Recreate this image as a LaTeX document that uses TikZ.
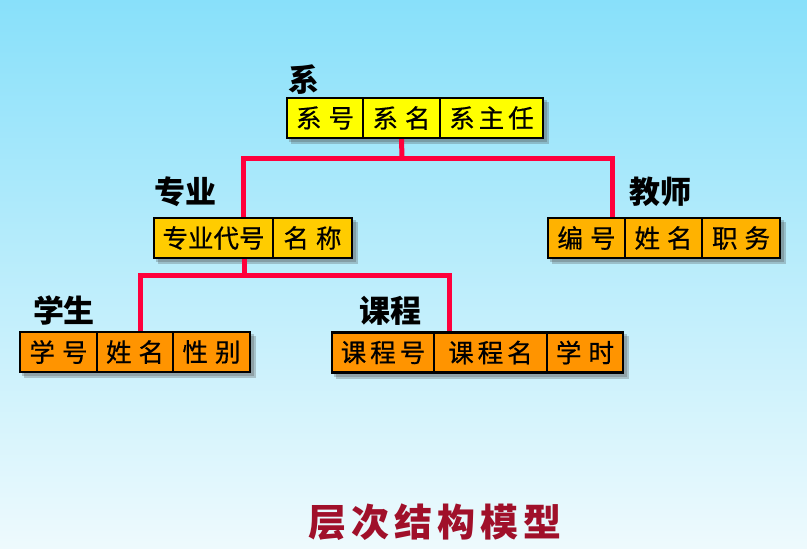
\documentclass[tikz,border=0pt]{standalone}
\usepackage{fontspec}
\newfontfamily\cjk{Noto Sans CJK SC}
\newfontfamily\cjkcell[FakeBold=0.6]{Noto Sans CJK SC}
\usetikzlibrary{backgrounds,calc}
\definecolor{bgtop}{RGB}{136,224,250}
\definecolor{bgbot}{RGB}{238,250,253}
\definecolor{linkred}{RGB}{255,0,60}
\definecolor{cyellow}{RGB}{255,255,0}
\definecolor{cgold}{RGB}{255,204,0}
\definecolor{camber}{RGB}{255,178,0}
\definecolor{corange}{RGB}{255,148,0}
\definecolor{titlered}{RGB}{160,16,42}
\tikzset{
  cell/.style={draw=black, line width=2.2pt, minimum height=40pt, inner sep=0pt,
    font=\cjkcell\fontsize{25.5}{25.5}\selectfont, text=black},
  ent/.style={font=\cjk\bfseries\fontsize{31}{31}\selectfont, inner sep=0pt, text=black},
  link/.style={draw=linkred, line width=5pt},
  boxshadow/.style={fill=black!70, opacity=0.28},
}
\begin{document}
\begin{tikzpicture}[x=1pt,y=-1pt]
\begin{scope}[on background layer]
  \shade[top color=bgtop, bottom color=bgbot] (0,0) rectangle (807,549);
\end{scope}
\useasboundingbox (0,0) rectangle (807,549);

% 系
\node[ent] (lx) at (304,80) {系};
\node[cell, fill=cyellow, minimum width=76pt]  (x1) at (325,118)   {系\hspace{7pt}号};
\node[cell, fill=cyellow, minimum width=77pt]  (x2) at (401.5,118) {系\hspace{7pt}名};
\node[cell, fill=cyellow, minimum width=103pt] (x3) at (491.5,118) {系\hspace{4pt}主\hspace{4pt}任};

% 专业
\node[ent] (lz) at (185,192) {专业};
\node[cell, fill=cgold, minimum width=119pt] (z1) at (213.5,238) {专业代号};
\node[cell, fill=cgold, minimum width=79pt]  (z2) at (312.5,238) {名\hspace{7pt}称};

% 教师
\node[ent] (lj) at (660,192) {教师};
\node[cell, fill=camber, minimum width=77pt] (j1) at (586.5,238) {编\hspace{7pt}号};
\node[cell, fill=camber, minimum width=77pt] (j2) at (663.5,238) {姓\hspace{7pt}名};
\node[cell, fill=camber, minimum width=78pt] (j3) at (741,238)   {职\hspace{7pt}务};

% 学生
\node[ent] (ls) at (64,310) {学生};
\node[cell, fill=corange, minimum width=77pt] (s1) at (58.5,352) {学\hspace{7pt}号};
\node[cell, fill=corange, minimum width=76pt] (s2) at (135,352)  {姓\hspace{7pt}名};
\node[cell, fill=corange, minimum width=77pt] (s3) at (211.5,352) {性\hspace{7pt}别};

% 课程
\node[ent] (lk) at (390,311) {课程};
\node[cell, fill=corange, minimum width=102pt] (k1) at (383,352.5)   {课\hspace{4pt}程\hspace{4pt}号};
\node[cell, fill=corange, minimum width=113pt] (k2) at (490.5,352.5) {课\hspace{4pt}程\hspace{4pt}名};
\node[cell, fill=corange, minimum width=76pt]  (k3) at (585,352.5)   {学\hspace{7pt}时};

% title
\node[font=\cjk\bfseries\fontsize{38}{38}\selectfont, text=titlered, inner sep=0pt] (title) at (435,522)
  {层\hspace{5pt}次\hspace{5pt}结\hspace{5pt}构\hspace{5pt}模\hspace{5pt}型};

% junction coordinates
\coordinate (ja) at (402,158);
\coordinate (dz) at (243,218);
\coordinate (dj) at (612,218);
\coordinate (jb) at (244,275);
\coordinate (ds) at (140,332);
\coordinate (dk) at (449,333);

\begin{scope}[on background layer]
  % shadows
  \foreach \a/\b in {x1/x3, z1/z2, j1/j3, s1/s3, k1/k3}{
    \fill[boxshadow] ($(\a.north west)+(5,5)$) rectangle ($(\b.south east)+(5,5)$);
    \fill[boxshadow] ($(\a.north west)+(3,3)$) rectangle ($(\b.south east)+(3,3)$);
  }
  % connectors
  \draw[link] (x2.south) -- (ja);
  \draw[link] (dz) |- (ja) -| (dj);
  \draw[link] (z1.south -| jb) -- (jb);
  \draw[link] (ds) |- (jb) -| (dk);
\end{scope}
\end{tikzpicture}
\end{document}
